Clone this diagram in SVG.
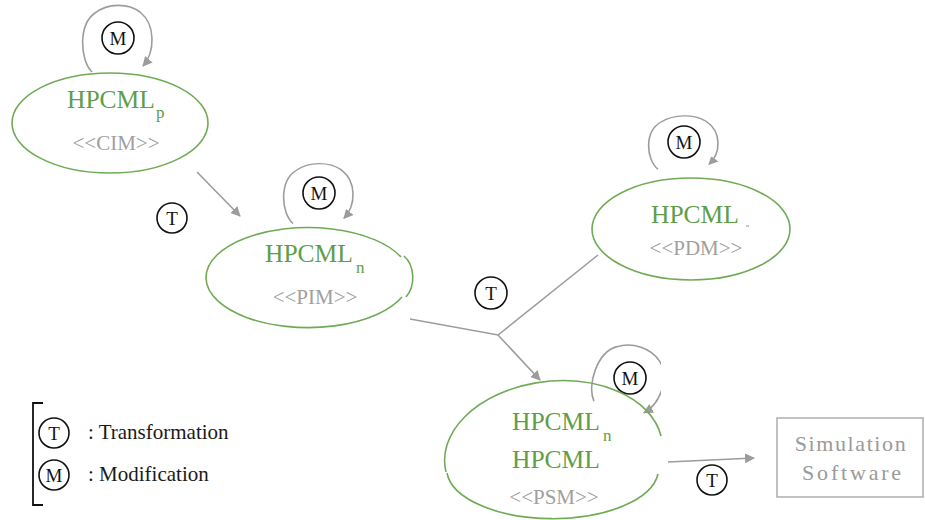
<svg xmlns="http://www.w3.org/2000/svg" width="925" height="520" viewBox="0 0 925 520">
<defs>
<style>
.ell{fill:none;stroke:#6fab55;stroke-width:1.6}
.name{font-family:'Liberation Serif','DejaVu Serif',serif;font-size:25.5px;fill:#5f9e48}
.sub{font-family:'Liberation Serif','DejaVu Serif',serif;font-size:17px;fill:#5f9e48}
.ster{font-family:'Liberation Serif','DejaVu Serif',serif;font-size:21px;fill:#a0a0a0;text-anchor:middle}
.conn{fill:none;stroke:#9c9c9c;stroke-width:1.6}
.badge circle{fill:#fff;stroke:#111;stroke-width:1.6}
.badge text{font-family:'Liberation Serif','DejaVu Serif',serif;font-size:19px;fill:#111;text-anchor:middle}
.leg{font-family:'Liberation Serif','DejaVu Serif',serif;font-size:21px;fill:#1a1a1a}
.sim{font-family:'Liberation Serif','DejaVu Serif',serif;font-size:22px;fill:#9a9a9a;text-anchor:middle}
</style>
<marker id="ah" viewBox="0 0 10 10" refX="9" refY="5" markerWidth="10" markerHeight="10" markerUnits="userSpaceOnUse" orient="auto">
<path d="M0,0 L10,5 L0,10 z" fill="#9c9c9c"/>
</marker>
<clipPath id="clipR"><rect x="0" y="0" width="661" height="520"/></clipPath>
</defs>
<rect width="925" height="520" fill="#fff"/>

<g id="connectors">
<path class="conn" d="M-26,34 C-38,22 -40,-13 -23,-25 C-10,-35 10,-35 22,-26 C38,-13 37,14 25,28" transform="translate(118,38)" marker-end="url(#ah)"/>
<path class="conn" d="M-26,34 C-38,22 -40,-13 -23,-25 C-10,-35 10,-35 22,-26 C38,-13 37,14 25,28" transform="translate(319,193) scale(1,0.9)" marker-end="url(#ah)"/>
<path class="conn" d="M-26,34 C-38,22 -40,-13 -23,-25 C-10,-35 10,-35 22,-26 C38,-13 37,14 25,28" transform="translate(684,142) scale(1,0.8)" marker-end="url(#ah)"/>
<g clip-path="url(#clipR)">
<path class="conn" d="M-26,34 C-38,22 -40,-13 -23,-25 C-10,-35 10,-35 22,-26 C38,-13 37,14 25,28" transform="translate(630,378) rotate(20)" marker-end="url(#ah)"/>
</g>
<line class="conn" x1="197" y1="172" x2="240" y2="216" marker-end="url(#ah)"/>
<polyline class="conn" points="410,319 498,335 598,255"/>
<line class="conn" x1="498" y1="335" x2="540" y2="380" marker-end="url(#ah)"/>
<line class="conn" x1="668" y1="462" x2="754" y2="458" marker-end="url(#ah)"/>
<g class="badge"><circle cx="118" cy="38" r="16"/><text x="118" y="45">M</text></g>
<g class="badge"><circle cx="319" cy="193" r="16"/><text x="319" y="200">M</text></g>
<g class="badge"><circle cx="684" cy="142" r="16"/><text x="684" y="149">M</text></g>
<g class="badge"><circle cx="630" cy="378" r="16"/><text x="630" y="385">M</text></g>
<g class="badge"><circle cx="172" cy="218" r="15"/><text x="172" y="225">T</text></g>
<g class="badge"><circle cx="491" cy="293" r="16"/><text x="491" y="300">T</text></g>
<g class="badge"><circle cx="712" cy="480" r="15"/><text x="712" y="487">T</text></g>
</g>

<g id="node-cim">
<ellipse class="ell" cx="110" cy="123" rx="98" ry="50"/>
<text class="name" x="67" y="108">HPCML</text>
<text class="sub" x="156" y="118">p</text>
<text class="ster" x="116" y="150">&lt;&lt;CIM&gt;&gt;</text>
</g>

<g id="node-pim">
<path class="ell" d="M401,257 A102,50 0 1 0 402,297"/>
<path class="ell" d="M404,256 A20,26 0 0 1 406,297"/>
<text class="name" x="265" y="262">HPCML</text>
<text class="sub" x="356" y="273">n</text>
<text class="ster" x="315" y="304">&lt;&lt;PIM&gt;&gt;</text>
</g>

<g id="node-pdm">
<ellipse class="ell" cx="691" cy="229" rx="99" ry="51"/>
<text class="name" x="651" y="223">HPCML</text>
<line x1="746" y1="226" x2="749" y2="226" stroke="#7aaa66" stroke-width="1"/>
<text class="ster" x="696" y="255">&lt;&lt;PDM&gt;&gt;</text>
</g>

<g id="node-psm">
<path class="ell" d="M446,472 A108,72 -6 0 1 661,436"/>
<path class="ell" d="M447,473 A106,50 0 0 0 658,474"/>
<text class="name" x="512" y="430">HPCML</text>
<text class="sub" x="603" y="441">n</text>
<text class="name" x="512" y="468">HPCML</text>
<text class="ster" x="554" y="504">&lt;&lt;PSM&gt;&gt;</text>
</g>

<g id="node-sim">
<rect x="777" y="418" width="146" height="79" fill="#fff" stroke="#a8a8a8" stroke-width="1.4"/>
<text class="sim" x="851" y="451" letter-spacing="1.6">Simulation</text>
<text class="sim" x="853" y="480" letter-spacing="2.8">Software</text>
</g>

<g id="legend">
<polyline points="43,403 33,403 33,505 43,505" fill="none" stroke="#111" stroke-width="1.8"/>
<g class="badge"><circle cx="54" cy="433" r="15"/><text x="54" y="440">T</text></g>
<g class="badge"><circle cx="54" cy="475" r="15"/><text x="54" y="482">M</text></g>
<text class="leg" x="88" y="439">: Transformation</text>
<text class="leg" x="88" y="481">: Modification</text>
</g>
</svg>
